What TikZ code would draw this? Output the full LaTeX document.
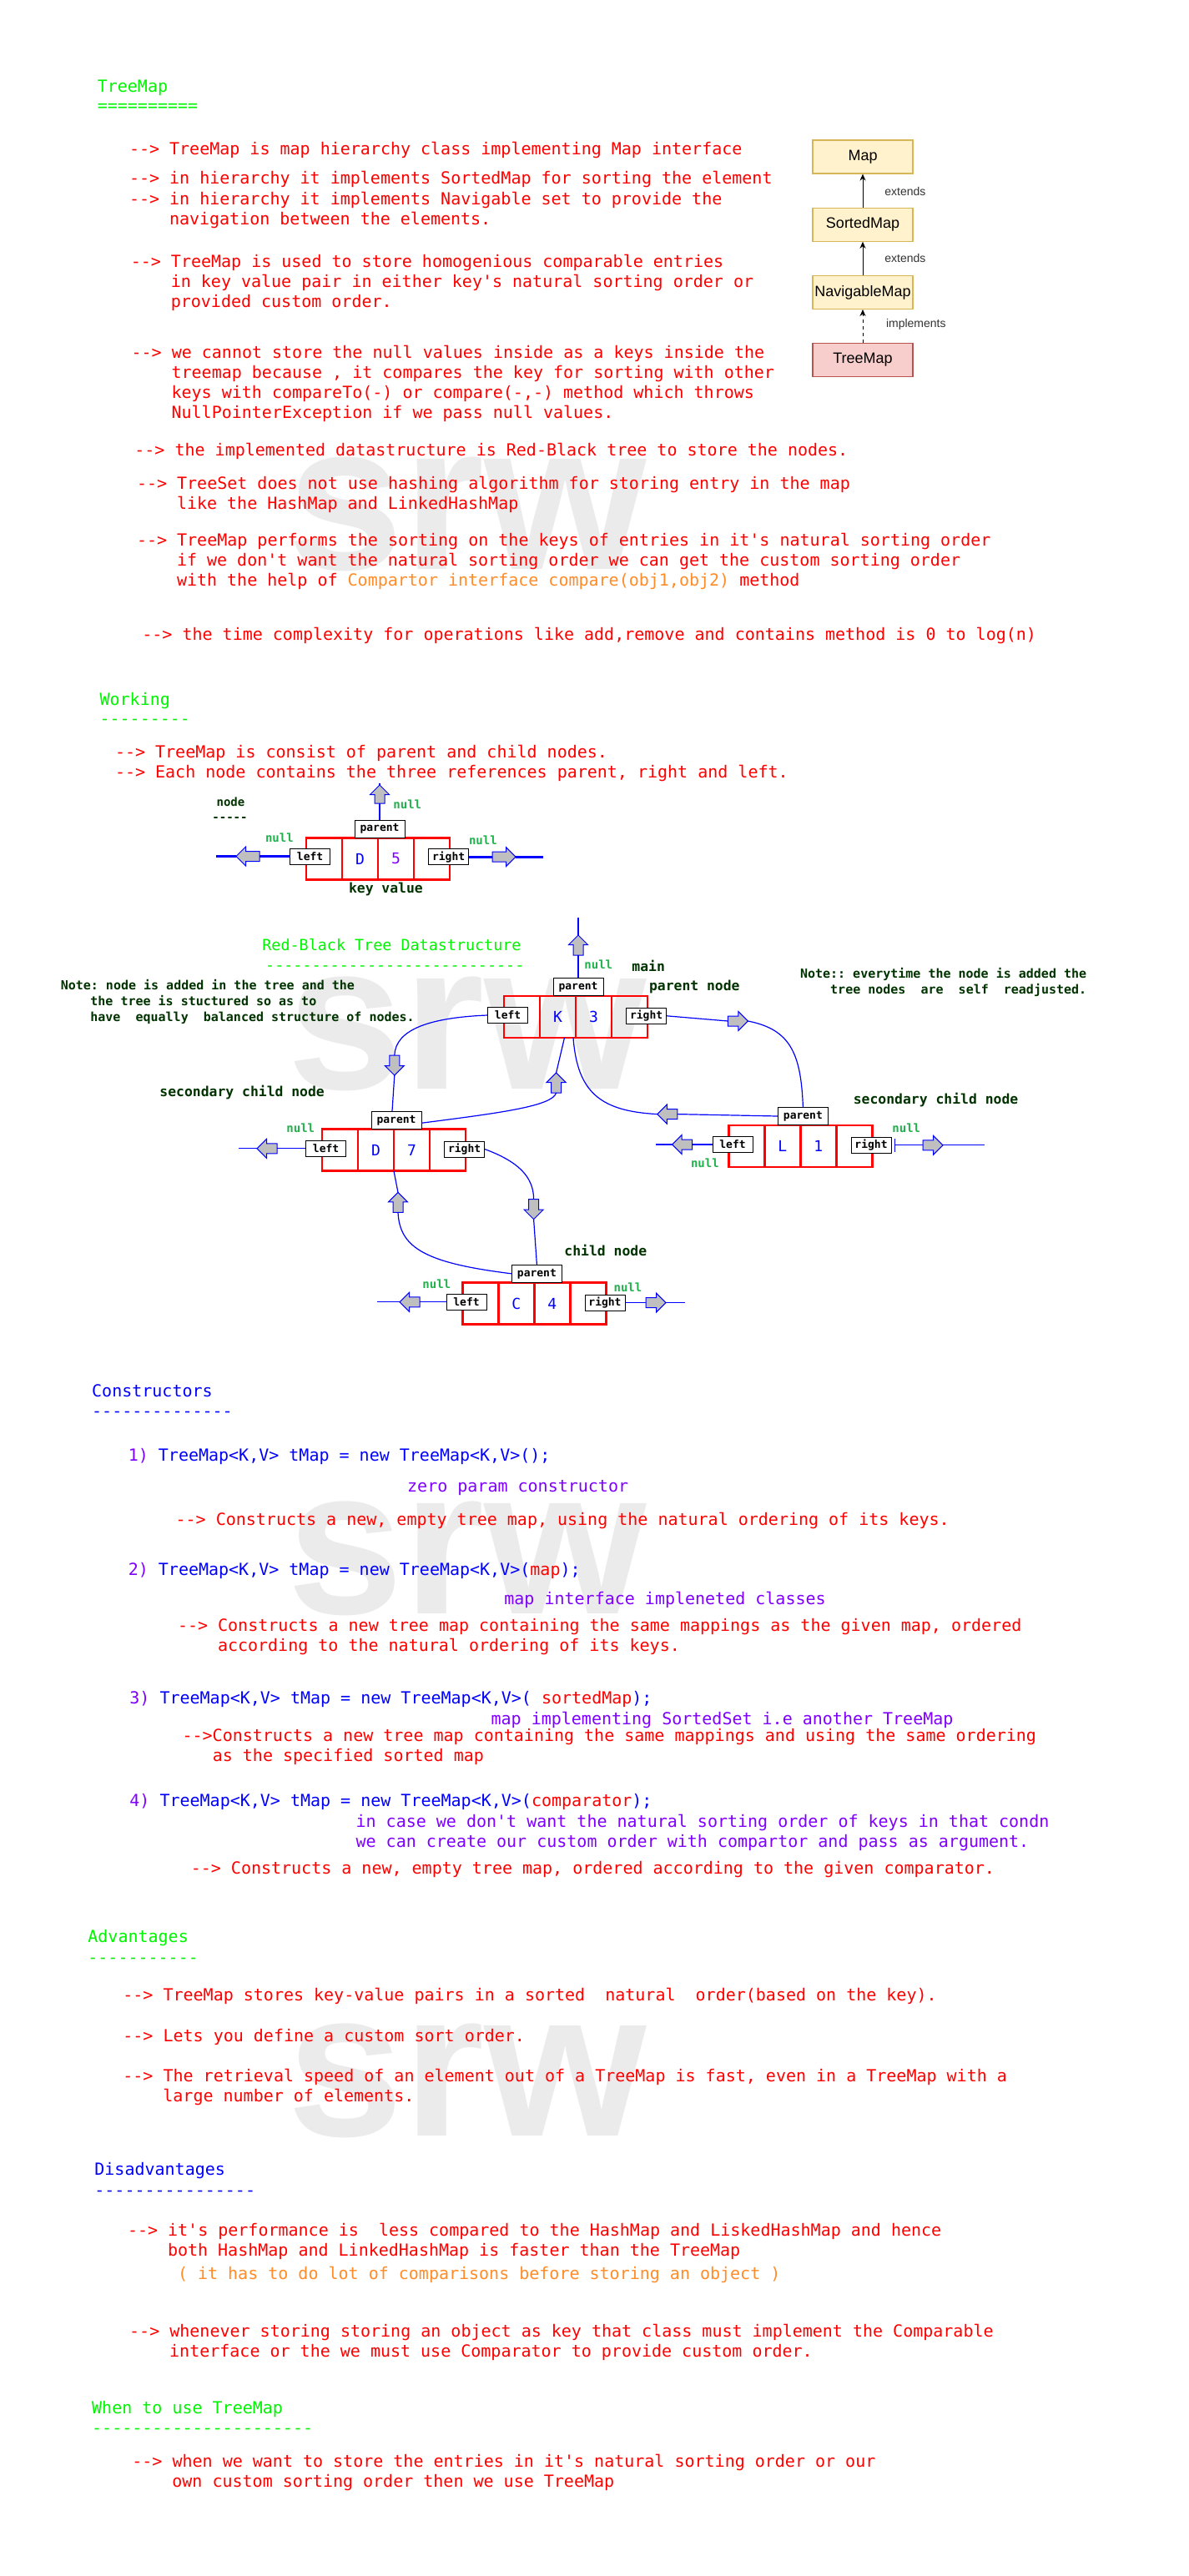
\documentclass[tikz,border=0pt]{standalone}
\usepackage{fontspec}
\setmonofont{DejaVu Sans Mono}
\renewcommand{\familydefault}{\ttdefault}
\newfontfamily\boxfont{Liberation Sans}
\usetikzlibrary{positioning,shapes.arrows,arrows.meta}
\definecolor{titlegreen}{RGB}{0,245,0}
\definecolor{dkgreen}{RGB}{0,51,0}
\definecolor{nullgreen}{RGB}{34,177,76}
\definecolor{violet2}{RGB}{127,0,255}
\definecolor{orange2}{RGB}{255,140,40}
\definecolor{yellowfill}{HTML}{FFF2CC}
\definecolor{yellowline}{HTML}{D6B656}
\definecolor{pinkfill}{HTML}{F8CECC}
\definecolor{pinkline}{HTML}{B85450}
\definecolor{wmgray}{RGB}{235,235,235}
\tikzset{
txt/.style={anchor=west,inner sep=0pt,text height=8.5pt,text depth=1.5pt,font=\ttfamily\fontsize{10}{12}\selectfont,text=red},
gtitle/.style={txt,text=titlegreen},
btitle/.style={txt,text=blue},
ctxt/.style={txt,text=blue},
vtxt/.style={txt,text=violet2},
otxt/.style={txt,text=orange2},
rbtitle/.style={anchor=west,inner sep=0pt,text height=7.9pt,text depth=1.5pt,font=\ttfamily\fontsize{9.2}{11}\selectfont,text=titlegreen},
dtxt/.style={anchor=west,inner sep=0pt,text height=7pt,text depth=1.2pt,font=\ttfamily\bfseries\fontsize{8.2}{10}\selectfont,text=dkgreen},
notetxt/.style={anchor=west,inner sep=0pt,text height=6.4pt,text depth=1.2pt,font=\ttfamily\bfseries\fontsize{7.5}{9}\selectfont,text=dkgreen},
smalltxt/.style={notetxt,text height=6pt,text depth=1.1pt,font=\ttfamily\bfseries\fontsize{7}{8}\selectfont},
nulltxt/.style={smalltxt,text=nullgreen},
cell/.style={draw=red,line width=1.4pt,minimum width=21.5pt,minimum height=25pt,inner sep=0pt,outer sep=0pt,font=\ttfamily\fontsize{9}{10}\selectfont,text=blue},
lbl/.style={draw=black,line width=0.5pt,fill=white,minimum width=24pt,minimum height=9.5pt,inner sep=0pt,font=\ttfamily\bfseries\fontsize{6.5}{7}\selectfont},
plbl/.style={lbl,minimum width=30pt,minimum height=10.5pt},
barrow/.style={single arrow,draw=blue,fill=gray!50,line width=0.5pt,inner sep=2.75pt,outer sep=0pt,minimum height=12pt,single arrow head extend=2.75pt},
nline/.style={draw=blue,line width=1.4pt},
tline/.style={draw=blue,line width=0.6pt},
hbox/.style={draw=yellowline,fill=yellowfill,line width=0.6pt,minimum width=60pt,minimum height=20pt,inner sep=0pt,font=\boxfont\fontsize{9}{10}\selectfont},
harrow/.style={-{Stealth[length=4pt,width=3.5pt]},line width=0.5pt},
elbl/.style={anchor=west,inner sep=0pt,font=\boxfont\fontsize{7}{8}\selectfont,text=black!80},
wmark/.style={anchor=base,inner sep=0pt,font=\boxfont\bfseries\fontsize{125}{125}\selectfont,text=wmgray}
}
\begin{document}
\frenchspacing
\begin{tikzpicture}[x=1pt,y=-1pt]
\useasboundingbox (0,0) rectangle (712,1544);
\fill[white] (0,0) rectangle (712,1544);
\node[wmark] (wm1) at (280,341) {srw};
\node[wmark] (wm2) at (280,652.5) {srw};
\node[wmark] (wm3) at (280,967) {srw};
\node[wmark] (wm4) at (280,1280) {srw};
\node[gtitle] (tmt) at (58.2,51.7) {TreeMap};
\node[gtitle] (tmd) at (58.2,63.3) {==========};
\node[txt] (a1) at (77.3,89.2) {--> TreeMap is map hierarchy class implementing Map interface};
\node[txt] (a2) at (77.3,107) {--> in hierarchy it implements SortedMap for sorting the element};
\node[txt] (a3) at (77.3,119.2) {--> in hierarchy it implements Navigable set to provide the};
\node[txt] (a4) at (101.3,131.2) {navigation between the elements.};
\node[txt] (b1) at (78.2,156.7) {--> TreeMap is used to store homogenious comparable entries};
\node[txt] (b2) at (102.2,168.7) {in key value pair in either key's natural sorting order or};
\node[txt] (b3) at (102.2,180.8) {provided custom order.};
\node[txt] (c1) at (78.6,211.2) {--> we cannot store the null values inside as a keys inside the};
\node[txt] (c2) at (102.6,223.3) {treemap because , it compares the key for sorting with other};
\node[txt] (c3) at (102.6,235.3) {keys with compareTo(-) or compare(-,-) method which throws};
\node[txt] (c4) at (102.6,247.2) {NullPointerException if we pass null values.};
\node[txt] (d1) at (80.5,269.7) {--> the implemented datastructure is Red-Black tree to store the nodes.};
\node[txt] (e1) at (81.8,289.7) {--> TreeSet does not use hashing algorithm for storing entry in the map};
\node[txt] (e2) at (105.8,301.7) {like the HashMap and LinkedHashMap};
\node[txt] (f1) at (81.8,323.7) {--> TreeMap performs the sorting on the keys of entries in it's natural sorting order};
\node[txt] (f2) at (105.8,335.7) {if we don't want the natural sorting order we can get the custom sorting order};
\node[txt] (f3) at (105.8,347.7) {with the help of {\color{orange2}Compartor interface compare(obj1,obj2)} method};
\node[txt] (g1) at (85,380) {--> the time complexity for operations like add,remove and contains method is 0 to log(n)};
\node[hbox] (map) at (517,94) {Map};
\node[hbox,below=20pt of map] (sorted) {SortedMap};
\node[hbox,below=20pt of sorted] (navi) {NavigableMap};
\node[hbox,fill=pinkfill,draw=pinkline,below=20pt of navi] (tmap) {TreeMap};
\draw[harrow] (sorted) -- (map);
\draw[harrow] (navi) -- (sorted);
\draw[harrow,dash pattern=on 2pt off 2pt] (tmap) -- (navi);
\node[elbl] (ex1) at (530,114.5) {extends};
\node[elbl] (ex2) at (530,154.5) {extends};
\node[elbl] (imp) at (530.8,194.5) {implements};
\node[gtitle] (wk) at (59.6,419.2) {Working};
\node[gtitle] (wkd) at (59.6,430.8) {---------};
\node[txt] (h1) at (68.8,450.5) {--> TreeMap is consist of parent and child nodes.};
\node[txt] (h2) at (68.8,462.5) {--> Each node contains the three references parent, right and left.};
\node[smalltxt] (ndl) at (129.6,480.8) {node};
\node[smalltxt] (ndd) at (127,490) {-----};
\node[cell] (n1) at (194.25,514.75) {};
\node[cell,right=0pt of n1] (n2) {D};
\node[cell,right=0pt of n2,text=violet2] (n3) {5};
\node[cell,right=0pt of n3] (n4) {};
\node[lbl] (nl) at ([xshift=2.3pt,yshift=1.5pt]n1.west) {left};
\node[lbl] (nr) at ([xshift=-0.7pt,yshift=1.2pt]n4.east) {right};
\node[plbl,above=0pt of n2.north east,xshift=1pt] (np) {parent};
\node[dtxt] (kv) at (208.8,532.5) {key value};
\node[barrow,shape border rotate=90,minimum height=11pt] (nua) at (np.north |- 0,477.5) {};
\coordinate (nut) at (np.north |- 0,469.5);
\draw[nline] (np.north) -- (nua.tail);
\draw[nline] (nua.tip) -- (nut);
\node[barrow,shape border rotate=180,minimum height=14pt] (nla) at (150,0 |- nl.west) {};
\coordinate (nlt) at (129.5,0 |- nl.west);
\draw[nline] (nl.west) -- (nla.tail);
\draw[nline] (nla.tip) -- (nlt);
\node[barrow,shape border rotate=0,minimum height=14pt] (nra) at (300.5,0 |- nr.east) {};
\coordinate (nrt) at (325.3,0 |- nr.east);
\draw[nline] (nr.east) -- (nra.tail);
\draw[nline] (nra.tip) -- (nrt);
\node[nulltxt] (nn1) at (235.5,482.5) {null};
\node[nulltxt] (nn2) at (158.8,502.5) {null};
\node[nulltxt] (nn3) at (280.8,503.7) {null};
\node[rbtitle] (rbt) at (157,566.7) {Red-Black Tree Datastructure};
\node[rbtitle] (rbd) at (158.9,578.5) {----------------------------};
\node[notetxt] (ln1) at (36.2,590.5) {Note: node is added in the tree and the};
\node[notetxt] (ln2) at (54,600) {the tree is stuctured so as to};
\node[notetxt] (ln3) at (54,609.5) {have\ \ equally\ \ balanced structure of nodes.};
\node[notetxt] (rn1) at (479.3,583.7) {Note:: everytime the node is added the};
\node[notetxt] (rn2) at (497.4,593.3) {tree nodes\ \ are\ \ self\ \ readjusted.};
\node[dtxt] (mn) at (378.5,579.5) {main};
\node[dtxt] (pn) at (388.8,590.8) {parent node};
\node[dtxt] (sc1) at (95.5,654.5) {secondary child node};
\node[dtxt] (sc2) at (511.2,658.7) {secondary child node};
\node[dtxt] (chn) at (338,750) {child node};
\node[cell] (k1) at (312.75,609.5) {};
\node[cell,right=0pt of k1] (k2) {K};
\node[cell,right=0pt of k2] (k3) {3};
\node[cell,right=0pt of k3] (k4) {};
\node[lbl] (kl) at ([xshift=2.3pt,yshift=1pt]k1.west) {left};
\node[lbl] (kr) at ([xshift=-0.7pt,yshift=0.6pt]k4.east) {right};
\node[plbl,above=0pt of k2.north east,xshift=1.5pt] (kp) {parent};
\node[cell] (d1) at (203.75,689.4) {};
\node[cell,right=0pt of d1] (d2) {D};
\node[cell,right=0pt of d2] (d3) {7};
\node[cell,right=0pt of d3] (d4) {};
\node[lbl] (dl) at ([xshift=2.3pt,yshift=1pt]d1.west) {left};
\node[lbl] (dr) at ([xshift=-0.7pt,yshift=0.6pt]d4.east) {right};
\node[plbl,above=0pt of d2.north east,xshift=1.5pt] (dp) {parent};
\node[cell] (l1) at (447.45,687) {};
\node[cell,right=0pt of l1] (l2) {L};
\node[cell,right=0pt of l2] (l3) {1};
\node[cell,right=0pt of l3] (l4) {};
\node[lbl] (ll) at ([xshift=2.3pt,yshift=1pt]l1.west) {left};
\node[lbl] (lr) at ([xshift=-0.7pt,yshift=0.6pt]l4.east) {right};
\node[plbl,above=0pt of l2.north east,xshift=1.5pt] (lp) {parent};
\node[cell] (c1) at (287.95,781.4) {};
\node[cell,right=0pt of c1] (c2) {C};
\node[cell,right=0pt of c2] (c3) {4};
\node[cell,right=0pt of c3] (c4) {};
\node[lbl] (cl) at ([xshift=2.3pt,yshift=1pt]c1.west) {left};
\node[lbl] (cr) at ([xshift=-0.7pt,yshift=0.6pt]c4.east) {right};
\node[plbl,above=0pt of c2.north east,xshift=1.5pt] (cp) {parent};
\node[barrow,shape border rotate=90] (kpa) at (kp.north |- 0,568) {};
\coordinate (kpt) at (kp.north |- 0,550);
\draw[tline] (kp.north) -- (kpa.tail);
\draw[tline] (kpa.tip) -- (kpt);
\node[barrow,shape border rotate=270] (kla) at (236.4,637) {};
\draw[tline] (kl.west) .. controls (255,610) and (237,618) .. (kla.tail);
\draw[tline] (kla.tip) -- ([xshift=-2.5pt]dp.north);
\node[barrow,shape border rotate=90] (dpa) at (333.3,650.5) {};
\draw[tline] ([yshift=-1.7pt]dp.east) .. controls (300,667) and (331,663) .. (dpa.tail);
\draw[tline] (dpa.tip) -- ([xshift=4pt]k2.south);
\node[barrow,shape border rotate=180] (lpa) at (401.4,667.8) {};
\draw[tline] (lp.west) -- (lpa.tail);
\draw[tline] (lpa.tip) .. controls (360,666) and (346,655) .. ([xshift=-1.5pt]k2.south east);
\node[barrow,shape border rotate=0] (kra) at (440.7,612) {};
\draw[tline] (kr.east) -- (kra.tail);
\draw[tline] (kra.tip) .. controls (474,617) and (480,632) .. (lp.north);
\node[barrow,shape border rotate=270] (dra) at (319.8,723.3) {};
\draw[tline] (dr.east) .. controls (310,696) and (319.8,705) .. (dra.tail);
\draw[tline] (dra.tip) -- (cp.north);
\node[barrow,shape border rotate=90] (cpa) at (238.5,722.2) {};
\draw[tline] (cp.west) .. controls (255,757) and (239.5,748) .. (cpa.tail);
\draw[tline] (cpa.tip) -- (d2.south east);
\node[barrow,shape border rotate=180] (dla) at (161.5,0 |- dl.west) {};
\coordinate (dlt) at (143,0 |- dl.west);
\draw[tline] (dl.west) -- (dla.tail);
\draw[tline] (dla.tip) -- (dlt);
\node[barrow,shape border rotate=180] (lla) at (410.3,0 |- ll.west) {};
\coordinate (llt) at (392.8,0 |- ll.west);
\draw[tline] (ll.west) -- (lla.tail);
\draw[tline] (lla.tip) -- (llt);
\node[barrow,shape border rotate=0] (lra) at (557.5,0 |- lr.east) {};
\coordinate (lrt) at (590,0 |- lr.east);
\draw[tline,{Bar[width=8pt]}-] ([xshift=1.8pt]lr.east) -- (lra.tail);
\draw[tline] (lra.tip) -- (lrt);
\node[barrow,shape border rotate=180] (cla) at (247,0 |- cl.west) {};
\coordinate (clt) at (225.9,0 |- cl.west);
\draw[tline] (cl.west) -- (cla.tail);
\draw[tline] (cla.tip) -- (clt);
\node[barrow,shape border rotate=0] (cra) at (391.5,0 |- cr.east) {};
\coordinate (crt) at (410.7,0 |- cr.east);
\draw[tline] (cr.east) -- (cra.tail);
\draw[tline] (cra.tip) -- (crt);
\node[nulltxt] (kn) at (350,578.5) {null};
\node[nulltxt] (dn) at (171.5,676.5) {null};
\node[nulltxt] (lnr) at (534.5,676.2) {null};
\node[nulltxt] (lnl) at (413.8,697.5) {null};
\node[nulltxt] (cnl) at (253,769.7) {null};
\node[nulltxt] (cnr) at (367.6,771.7) {null};
\node[btitle] (ct) at (54.9,833.6) {Constructors};
\node[btitle] (ctd) at (54.9,845.5) {--------------};
\node[ctxt] (k1c) at (76.7,872.3) {{\color{violet2}1)} TreeMap<K,V> tMap = new TreeMap<K,V>();};
\node[vtxt] (k1n) at (243.9,890.6) {zero param constructor};
\node[txt] (k1r) at (105.1,910.9) {--> Constructs a new, empty tree map, using the natural ordering of its keys.};
\node[ctxt] (k2c) at (76.7,940.5) {{\color{violet2}2)} TreeMap<K,V> tMap = new TreeMap<K,V>({\color{red}map});};
\node[vtxt] (k2n) at (302,958.2) {map interface impleneted classes};
\node[txt] (k2r) at (106.3,974.1) {--> Constructs a new tree map containing the same mappings as the given map, ordered};
\node[txt] (k2s) at (130.3,986.4) {according to the natural ordering of its keys.};
\node[ctxt] (k3c) at (77.5,1017.8) {{\color{violet2}3)} TreeMap<K,V> tMap = new TreeMap<K,V>( {\color{red}sortedMap});};
\node[vtxt] (k3n) at (294.1,1030.3) {map implementing SortedSet i.e another TreeMap};
\node[txt] (k3r) at (109.1,1040) {-->Constructs a new tree map containing the same mappings and using the same ordering};
\node[txt] (k3s) at (127.2,1052) {as the specified sorted map};
\node[ctxt] (k4c) at (77.5,1079.4) {{\color{violet2}4)} TreeMap<K,V> tMap = new TreeMap<K,V>({\color{red}comparator});};
\node[vtxt] (k4n) at (213.1,1091.7) {in case we don't want the natural sorting order of keys in that condn};
\node[vtxt] (k4m) at (213.1,1103.9) {we can create our custom order with compartor and pass as argument.};
\node[txt] (k4r) at (114.2,1119.6) {--> Constructs a new, empty tree map, ordered according to the given comparator.};
\node[gtitle] (adv) at (52.5,1160.7) {Advantages};
\node[gtitle] (advd) at (52.5,1173) {-----------};
\node[txt] (v1) at (73.5,1195.5) {--> TreeMap stores key-value pairs in a sorted\ \ natural\ \ order(based on the key).};
\node[txt] (v2) at (73.5,1220) {--> Lets you define a custom sort order.};
\node[txt] (v3) at (73.5,1244.2) {--> The retrieval speed of an element out of a TreeMap is fast, even in a TreeMap with a};
\node[txt] (v4) at (97.5,1256) {large number of elements.};
\node[btitle] (dis) at (56.5,1300.1) {Disadvantages};
\node[btitle] (disd) at (56.5,1312.5) {----------------};
\node[txt] (w1) at (76.3,1336.7) {--> it's performance is\ \ less compared to the HashMap and LiskedHashMap and hence};
\node[txt] (w2) at (100.3,1348.5) {both HashMap and LinkedHashMap is faster than the TreeMap};
\node[otxt] (w3) at (106.3,1362.8) {( it has to do lot of comparisons before storing an object )};
\node[txt] (w4) at (77.4,1397.2) {--> whenever storing storing an object as key that class must implement the Comparable};
\node[txt] (w5) at (101.4,1409.3) {interface or the we must use Comparator to provide custom order.};
\node[gtitle] (wtu) at (54.9,1443) {When to use TreeMap};
\node[gtitle] (wtud) at (54.9,1455.3) {----------------------};
\node[txt] (u1) at (79,1475) {--> when we want to store the entries in it's natural sorting order or our};
\node[txt] (u2) at (103,1487.3) {own custom sorting order then we use TreeMap};
\end{tikzpicture}
\end{document}
